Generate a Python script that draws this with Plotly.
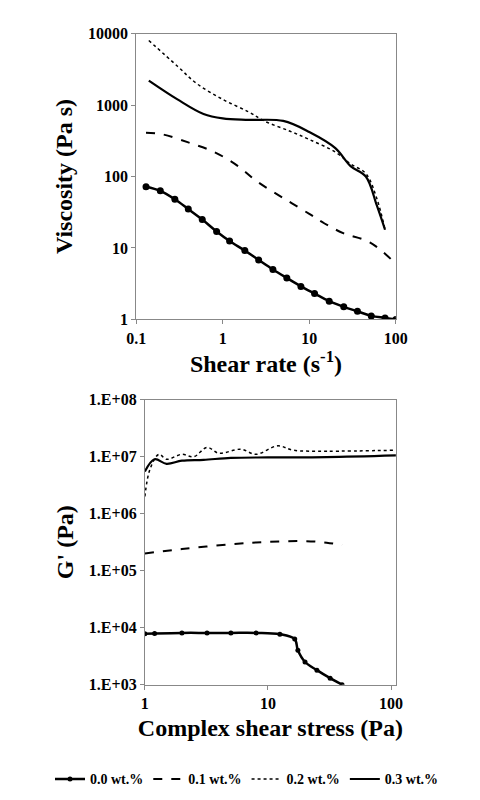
import plotly.graph_objects as go

# Top: viscosity vs shear rate
v0_x = [0.13, 0.19, 0.28, 0.4, 0.58, 0.85, 1.2, 1.8, 2.6, 3.8, 5.5, 8, 11.5, 17, 25, 36, 52, 75, 100]
v0_y = [72, 63, 48, 35, 25, 17, 12.5, 9.2, 6.8, 5, 3.8, 2.9, 2.3, 1.8, 1.5, 1.3, 1.12, 1.05, 1.0]
v1_x = [0.13, 0.2, 0.4, 0.8, 1.5, 2.5, 5, 10, 15, 25, 50, 100]
v1_y = [410, 390, 300, 220, 140, 85, 50, 30, 22, 16, 12, 6]
v2_x = [0.14, 0.3, 0.5, 1, 2, 3, 6, 10, 20, 30, 45, 60, 75]
v2_y = [8000, 3500, 2000, 1200, 800, 600, 430, 330, 220, 150, 110, 50, 18]
v3_x = [0.14, 0.3, 0.6, 1, 2, 5, 10, 20, 30, 45, 60, 75]
v3_y = [2200, 1200, 750, 650, 620, 600, 420, 250, 140, 100, 40, 18]

# Bottom: G' vs complex shear stress
g0_x = [1, 1.2, 2, 3.2, 5, 8, 12.5, 16.5, 17.5, 20, 25, 32, 40]
g0_y = [7800, 7900, 8100, 8100, 8100, 8100, 7700, 6300, 4000, 2500, 1800, 1300, 1000]
g1_x = [1, 2, 5, 10, 20, 30, 40]
g1_y = [2.0e5, 2.4e5, 2.9e5, 3.2e5, 3.3e5, 3.1e5, 2.8e5]
g2_x = [1, 1.1, 1.3, 1.5, 2, 2.5, 3.2, 4, 6, 8, 12, 16, 30, 110]
g2_y = [2.0e6, 6e6, 1.1e7, 9e6, 1.1e7, 1.0e7, 1.45e7, 1.15e7, 1.35e7, 1.1e7, 1.55e7, 1.3e7, 1.25e7, 1.3e7]
g3_x = [1, 1.2, 1.5, 2, 3, 5, 10, 30, 110]
g3_y = [5.5e6, 9e6, 7.5e6, 8.5e6, 8.8e6, 9.5e6, 9.7e6, 9.8e6, 1.05e7]

labels = ["0.0 wt.%", "0.1 wt.%", "0.2 wt.%", "0.3 wt.%"]
g_ticks = [1e3, 1e4, 1e5, 1e6, 1e7, 1e8]
g_ticktext = ["1.E+03", "1.E+04", "1.E+05", "1.E+06", "1.E+07", "1.E+08"]

FONT = "Liberation Serif"
fig = go.Figure()
styles = [("solid", 2.5), ("dash", 2), ("dot", 1.5), ("solid", 2.2)]

for i, (x, y) in enumerate([(v0_x, v0_y), (v1_x, v1_y), (v2_x, v2_y), (v3_x, v3_y)]):
    d, w = styles[i]
    fig.add_trace(go.Scatter(x=x, y=y, mode="lines+markers" if i == 0 else "lines",
                             line=dict(color="black", dash=d, width=w, shape="spline"),
                             marker=dict(size=7, color="black"),
                             name=labels[i], showlegend=False, xaxis="x", yaxis="y"))
for i, (x, y) in enumerate([(g0_x, g0_y), (g1_x, g1_y), (g2_x, g2_y), (g3_x, g3_y)]):
    d, w = styles[i]
    fig.add_trace(go.Scatter(x=x, y=y, mode="lines+markers" if i == 0 else "lines",
                             line=dict(color="black", dash=d, width=w, shape="spline"),
                             marker=dict(size=5, color="black"),
                             name="<b>%s</b>" % labels[i], showlegend=True, xaxis="x2", yaxis="y2"))

ax = dict(type="log", showgrid=False, zeroline=False, showline=True, mirror=True,
          linecolor="#888", linewidth=1, ticks="outside", ticklen=4, tickcolor="#888",
          tickfont=dict(family=FONT, size=16, color="black"))
TF = dict(family=FONT, size=24)
fig.update_layout(
    width=480, height=800, margin=dict(l=0, r=0, t=0, b=0),
    paper_bgcolor="white", plot_bgcolor="white",
    font=dict(family=FONT, color="black"),
    xaxis=dict(ax, domain=[0.258, 0.825], range=[-1, 2], anchor="y",
               tickvals=[0.1, 1, 10, 100], ticktext=["<b>0.1</b>", "<b>1</b>", "<b>10</b>", "<b>100</b>"],
               title=dict(text="<b>Shear rate (s<sup>-1</sup>)</b>", font=TF, standoff=8)),
    yaxis=dict(ax, domain=[0.6125, 0.9775], range=[0, 4], anchor="x",
               tickvals=[1, 10, 100, 1000, 10000], ticktext=["<b>1</b>", "<b>10</b>", "<b>100</b>", "<b>1000</b>", "<b>10000</b>"],
               title=dict(text="<b>Viscosity (Pa s)</b>", font=TF, standoff=8)),
    xaxis2=dict(ax, domain=[0.277, 0.825], range=[0, 2.039], anchor="y2",
                tickvals=[1, 10, 100], ticktext=["<b>1</b>", "<b>10</b>", "<b>100</b>"],
                title=dict(text="<b>Complex shear stress (Pa)</b>", font=TF, standoff=8)),
    yaxis2=dict(ax, domain=[0.146, 0.51], range=[3, 8], anchor="x2",
                tickvals=g_ticks, ticktext=["<b>%s</b>" % t for t in g_ticktext],
                title=dict(text="<b>G' (Pa)</b>", font=TF, standoff=8)),
    legend=dict(orientation="h", x=0.5, xanchor="center", y=0.025, yanchor="middle",
                font=dict(family=FONT, size=14), itemwidth=30, tracegroupgap=0),
)
fig.write_html("out.html")
